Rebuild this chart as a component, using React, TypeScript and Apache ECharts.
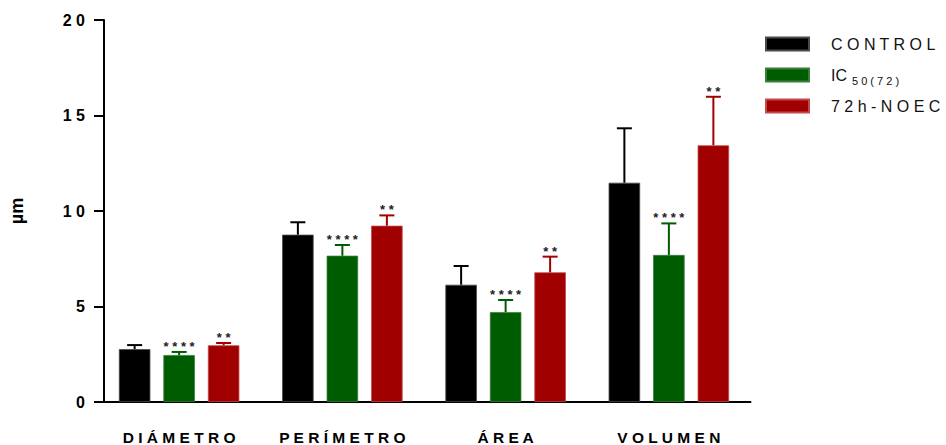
import React, { useEffect, useRef } from "react";
import * as echarts from "echarts";

const categories = ["DIÁMETRO", "PERÍMETRO", "ÁREA", "VOLUMEN"];
const seriesNames = ["CONTROL", "IC50(72)", "72h-NOEC"];
const controlValues = [2.77, 8.76, 6.14, 11.48];
const controlErrors = [0.21, 0.65, 0.98, 2.85];
const ic50Values = [2.46, 7.66, 4.71, 7.7];
const ic50Errors = [0.16, 0.56, 0.63, 1.65];
const noecValues = [2.97, 9.23, 6.79, 13.44];
const noecErrors = [0.12, 0.54, 0.82, 2.54];
const controlSig = ["", "", "", ""];
const ic50Sig = ["****", "****", "****", "****"];
const noecSig = ["**", "**", "**", "**"];
const yTicks = { min: 0, max: 20, interval: 5 };

const colors = ["#000000", "#005c00", "#a00000"];
const borderColors = ["#4a4a4a", "#3c7f3c", "#c24a4a"];

const BAR_W = 31.5;
const BAR_GAP = 13;

const spaced = (s: string) => s.split("").join(" ");

export default function App() {
  const ref = useRef<HTMLDivElement>(null);
  useEffect(() => {
    if (!ref.current) return;
    const chart = echarts.init(ref.current, null, { renderer: "svg" });
    const values = [controlValues, ic50Values, noecValues];
    const errors = [controlErrors, ic50Errors, noecErrors];
    const sigs = [controlSig, ic50Sig, noecSig];

    const barSeries = seriesNames.map((name, i) => ({
      name,
      type: "bar",
      data: values[i],
      barWidth: BAR_W,
      barGap: (BAR_GAP / BAR_W) * 100 + "%",
      itemStyle: { color: colors[i], borderColor: borderColors[i], borderWidth: 0.8 },
      z: 2,
    }));

    const errSeries = seriesNames.map((name, i) => ({
      type: "custom",
      name: name + "-err",
      z: 3,
      data: values[i].map((v, k) => [k, v, v + errors[i][k]]),
      renderItem: (params: any, api: any) => {
        const k = api.value(0);
        const top = api.coord([k, api.value(1)]);
        const hi = api.coord([k, api.value(2)]);
        const x = top[0] + (i - 1) * (BAR_W + BAR_GAP);
        const sig = sigs[i][k];
        const children: any[] = [
          {
            type: "line",
            shape: { x1: x, y1: top[1], x2: x, y2: hi[1] },
            style: { stroke: colors[i], lineWidth: 2 },
          },
          {
            type: "line",
            shape: { x1: x - 7.5, y1: hi[1], x2: x + 7.5, y2: hi[1] },
            style: { stroke: colors[i], lineWidth: 2 },
          },
        ];
        if (sig) {
          children.push({
            type: "text",
            x,
            y: hi[1] + 1,
            style: {
              text: spaced(sig),
              fill: "#222",
              font: "bold 13px 'Liberation Sans', Arial, sans-serif",
              align: "center",
              verticalAlign: "bottom",
            },
          });
        }
        return { type: "group", children };
      },
      encode: { x: 0, y: [1, 2] },
    }));

    chart.setOption({
      animation: false,
      grid: { left: 94.5, width: 656, top: 20, bottom: 43 },
      legend: {
        data: seriesNames,
        orient: "vertical",
        left: 765,
        top: 36,
        padding: 0,
        itemWidth: 43,
        itemHeight: 13,
        itemGap: 11.5,
        icon: "rect",
        selectedMode: false,
        formatter: (name: string) =>
          name === "IC50(72)" ? "{a|IC}{b|5 0 ( 7 2 )}" : "{a|" + spaced(name) + "}",
        textStyle: {
          padding: [0, 0, 0, 17],
          rich: {
            a: {
              fontSize: 16,
              fontFamily: "'Liberation Sans', Arial, sans-serif",
              color: "#111",
              lineHeight: 20,
            },
            b: {
              fontSize: 11,
              fontFamily: "'Liberation Sans', Arial, sans-serif",
              color: "#111",
              padding: [12, 0, 0, 5],
              lineHeight: 20,
            },
          },
        },
      },
      xAxis: {
        type: "category",
        data: categories,
        axisLine: { lineStyle: { color: "#000", width: 2 } },
        axisTick: { alignWithLabel: true, length: 10, lineStyle: { color: "#000", width: 2 } },
        axisLabel: {
          interval: 0,
          margin: 27,
          formatter: (v: string) => spaced(v),
          fontSize: 15.5,
          fontWeight: "bold",
          fontFamily: "'Liberation Sans', Arial, sans-serif",
          color: "#000",
        },
      },
      yAxis: {
        type: "value",
        min: yTicks.min,
        max: yTicks.max,
        interval: yTicks.interval,
        offset: -6.5,
        splitLine: { show: false },
        axisLine: { show: true, lineStyle: { color: "#000", width: 2 } },
        axisTick: { show: true, length: 10, lineStyle: { color: "#000", width: 2 } },
        axisLabel: {
          margin: 19,
          formatter: (v: number) => spaced(String(v)),
          fontSize: 16,
          fontWeight: "bold",
          fontFamily: "'Liberation Sans', Arial, sans-serif",
          color: "#000",
        },
        name: "µm",
        nameLocation: "middle",
        nameRotate: 90,
        nameGap: 78,
        nameTextStyle: {
          fontSize: 18,
          fontWeight: "bold",
          fontFamily: "'Liberation Sans', Arial, sans-serif",
          color: "#000",
        },
      },
      series: [...barSeries, ...errSeries],
    });
    return () => chart.dispose();
  }, []);
  return (
    <div
      ref={ref}
      style={{ position: "fixed", left: 0, top: 0, width: 946, height: 445, background: "#fff" }}
    />
  );
}
